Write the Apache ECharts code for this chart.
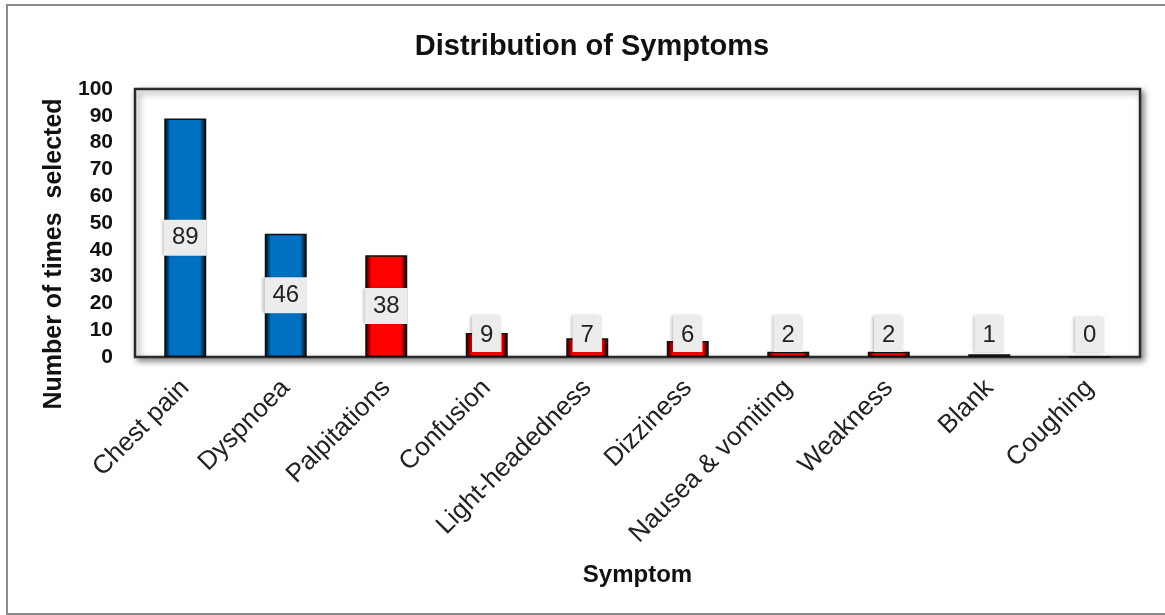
<!DOCTYPE html>
<html>
<head>
<meta charset="utf-8">
<title>Distribution of Symptoms</title>
<script src="https://cdn.jsdelivr.net/npm/echarts@6/dist/echarts.min.js"></script>
<style>
  html, body { margin: 0; padding: 0; background: #fff; }
  #chart { width: 1165px; height: 615px; }
</style>
</head>
<body>
<div id="chart"></div>
<script>
// Symptom categories and the number of times each was selected
const symptoms = ['Chest pain', 'Dyspnoea', 'Palpitations', 'Confusion', 'Light-headedness',
                  'Dizziness', 'Nausea & vomiting', 'Weakness', 'Blank', 'Coughing'];
const counts = [89, 46, 38, 9, 7, 6, 2, 2, 1, 0];

// Fill colour for each bar, in category order
const barColors = ['#0070C0', '#0070C0', '#FF0000', '#FF0000', '#FF0000',
                   '#FF0000', '#FF0000', '#FF0000', '#111111', '#FF0000'];

const chart = echarts.init(document.getElementById('chart'));

function bevel(c) {
  // horizontal shading gives the bars a slightly rounded, raised look
  return new echarts.graphic.LinearGradient(0, 0, 1, 0, [
    { offset: 0, color: echarts.color.modifyHSL(c, null, null, -0.08) },
    { offset: 0.15, color: c },
    { offset: 0.85, color: c },
    { offset: 1, color: echarts.color.modifyHSL(c, null, null, -0.1) }
  ]);
}

const seriesData = counts.map((v, i) => ({
  value: v,
  itemStyle: { color: bevel(barColors[i]) },
  label: v < 20 ? { position: 'insideBottom', distance: 5 } : { position: 'inside' }
}));

chart.setOption({
  animation: false,
  graphic: [{
    type: 'rect',
    shape: { x: 7, y: 5, width: 1170, height: 609 },
    style: { fill: 'none', stroke: '#8a8a8a', lineWidth: 2 },
    z: 100
  }],
  title: {
    text: 'Distribution of Symptoms',
    left: 587, top: 27, textAlign: 'center',
    textStyle: { fontFamily: 'Liberation Sans, Arial', fontWeight: 'bold', fontSize: 29, color: '#111' }
  },
  grid: {
    left: 135, right: 25, top: 89, bottom: 258,
    show: true,
    backgroundColor: '#fff',
    borderColor: '#2a2a2a',
    borderWidth: 2.5,
    shadowColor: 'rgba(0,0,0,0.45)',
    shadowBlur: 6,
    shadowOffsetX: 3,
    shadowOffsetY: 3
  },
  xAxis: {
    type: 'category',
    data: symptoms,
    name: 'Symptom',
    nameLocation: 'middle',
    nameGap: 206,
    nameTextStyle: { fontFamily: 'Liberation Sans, Arial', fontWeight: 'bold', fontSize: 24, color: '#111' },
    axisLine: { show: false },
    axisTick: { show: false },
    axisLabel: {
      rotate: 45, interval: 0, margin: 27,
      fontFamily: 'Liberation Sans, Arial', fontSize: 26, color: '#222'
    }
  },
  yAxis: {
    type: 'value',
    min: 0, max: 100, interval: 10,
    name: 'Number of times  selected',
    nameLocation: 'middle',
    nameRotate: 90,
    nameGap: 65,
    nameTextStyle: {
      fontFamily: 'Liberation Sans, Arial', fontWeight: 'bold', fontSize: 25, color: '#111',
      padding: [0, 62, 0, 0]
    },
    axisLine: { show: false },
    axisTick: { show: false },
    splitLine: { show: false },
    axisLabel: {
      margin: 22,
      fontFamily: 'Liberation Sans, Arial', fontWeight: 'bold', fontSize: 21, color: '#111'
    }
  },
  series: [{
    type: 'bar',
    data: seriesData,
    barWidth: 42,
    itemStyle: { borderColor: '#111', borderWidth: 1.5 },
    label: {
      show: true,
      fontFamily: 'Liberation Sans, Arial',
      fontSize: 24,
      color: '#222',
      backgroundColor: '#ececec',
      padding: [7, 8, 5, 8],
      shadowColor: 'rgba(0,0,0,0.25)',
      shadowBlur: 3,
      shadowOffsetX: -2
    }
  }]
});
</script>
</body>
</html>
